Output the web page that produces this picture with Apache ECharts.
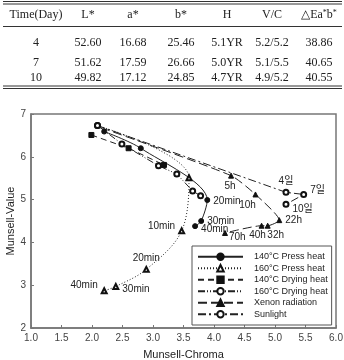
<!DOCTYPE html>
<html>
<head>
<meta charset="utf-8">
<script src="https://cdn.jsdelivr.net/npm/echarts@6/dist/echarts.min.js"></script>
<style>
  html, body { margin: 0; padding: 0; background: #fff; }
  #chart { width: 344px; height: 360px; }
</style>
</head>
<body>
<div id="chart"></div>
<script>
// table on top
const tableHeader = ['Time(Day)', 'L*', 'a*', 'b*', 'H', 'V/C', '△Ea{s|*}b{s|*}'];
const tableRows = [
    ['4', '52.60', '16.68', '25.46', '5.1YR', '5.2/5.2', '38.86'],
    ['7', '51.62', '17.59', '26.66', '5.0YR', '5.1/5.5', '40.65'],
    ['10', '49.82', '17.12', '24.85', '4.7YR', '4.9/5.2', '40.55']
];

// chart data [chroma, value]
const press140 = [[2.20, 6.59], [2.80, 6.20], [3.89, 4.99], [3.79, 4.50], [3.69, 4.38]];
const press140Labels = ['', '', '20min', '30min', '40min'];
const press160 = [[2.09, 6.73], [3.59, 5.51], [3.47, 4.27], [2.89, 3.37], [2.39, 2.97], [2.20, 2.87]];
const press160Labels = ['', '', '10min', '20min', '30min', '40min'];
const dry140 = [[1.99, 6.51], [2.60, 6.20], [3.18, 5.81]];
const dry160 = [[2.09, 6.73], [2.49, 6.30], [3.09, 5.79], [3.39, 5.60], [3.65, 5.20], [3.78, 5.09]];
const xenon = [[2.15, 6.68], [4.28, 5.56], [4.68, 5.12], [5.07, 4.52], [4.88, 4.39], [4.78, 4.39], [4.18, 4.22]];
const xenonLabels = ['', '5h', '10h', '22h', '32h', '40h', '70h'];
const sunlight = [[2.09, 6.73], [5.18, 5.17], [5.47, 5.12], [5.18, 4.89]];
const sunlightLabels = ['', '4일', '7일', '10일'];

const xTicks = [1.0, 1.5, 2.0, 2.5, 3.0, 3.5, 4.0, 4.5, 5.0, 5.5, 6.0];

const colX = [36, 88, 133, 181, 227, 272, 319];
const rowY = [43, 63, 78];

const chart = echarts.init(document.getElementById('chart'));

const serif = '"Liberation Serif", "Times New Roman", serif';
const sans = '"Liberation Sans", Arial, sans-serif';
const cjk = '"Liberation Sans", "Noto Sans CJK KR", sans-serif';

const graphics = [];
function hline(y, w) {
    graphics.push({type: 'line', shape: {x1: 3, y1: y, x2: 342, y2: y}, style: {stroke: '#333', lineWidth: w}});
}
hline(1.5, 1); hline(4, 1); hline(26.5, 1); hline(86, 1); hline(88.5, 1);

function cell(x, y, text) {
    graphics.push({
        type: 'text', x: x, y: y,
        style: {
            text: text, align: 'center', verticalAlign: 'middle',
            font: '12px ' + serif, fill: '#222',
            rich: {s: {fontSize: 8, fontFamily: serif, verticalAlign: 'top', padding: [0, 0, 4, 0]}}
        }
    });
}
tableHeader.forEach((h, i) => cell(colX[i], 15, h));
tableRows.forEach((r, j) => r.forEach((v, i) => cell(colX[i], rowY[j], v)));

// label placement per series
const lblPos = {
    press140: [null, null, ['right', [0, 1]], ['right', [0, 0]], ['right', [0, 3]]],
    press160: [null, null, ['left', [0, -5]], ['top', [0, 0]], ['right', [0, 3]], ['left', [0, -6]]],
    xenon: [null, ['bottom', [-1, 0]], ['bottom', [-8, 0]], ['right', [0, 0]], ['bottom', [8, -1]], ['bottom', [-4, -1]], ['right', [-2, 4]]],
    sunlight: [null, ['top', [0, 0]], ['right', [0, -4]], ['right', [0, 5]]]
};

function makeData(points, labels, pos, hideFirst) {
    return points.map((p, i) => {
        const item = {value: p};
        if (hideFirst && i === 0) item.symbol = 'none';
        if (labels && labels[i]) {
            item.label = {
                show: true, formatter: labels[i],
                position: pos[i][0], offset: pos[i][1], distance: 3,
                fontSize: 10, color: '#222', fontFamily: cjk
            };
        }
        return item;
    });
}

function lineSeries(name, data, dash, symbol, smooth) {
    return {
        name: name,
        type: 'line',
        data: data,
        smooth: smooth,
        symbol: symbol,
        symbolSize: 5,
        showAllSymbol: true,
        lineStyle: {color: '#222', width: 1, type: dash},
        itemStyle: {color: '#111', borderColor: '#111', borderWidth: 1},
        z: 3
    };
}

chart.setOption({
    animation: false,
    textStyle: {fontFamily: sans},
    graphic: graphics,
    grid: {
        left: 31, right: 8, top: 114, bottom: 32,
        outerBoundsMode: 'none', containLabel: false,
        show: true, borderColor: '#777', borderWidth: 1.5
    },
    legend: {
        orient: 'vertical',
        left: 192, top: 246,
        itemWidth: 45, itemHeight: 8, itemGap: 2,
        padding: [6, 4, 6, 5],
        borderColor: '#555', borderWidth: 1,
        backgroundColor: '#fff',
        textStyle: {fontSize: 9, lineHeight: 9.5, color: '#222', fontFamily: sans, padding: [0, 0, 0, 6]}
    },
    xAxis: {
        type: 'value', min: 1, max: 6, interval: 0.5,
        name: 'Munsell-Chroma', nameLocation: 'middle', nameGap: 21, nameMoveOverlap: false,
        nameTextStyle: {fontSize: 11, color: '#222'},
        axisLine: {lineStyle: {color: '#777', width: 1.5}},
        axisTick: {inside: true, length: 3, lineStyle: {color: '#777'}},
        axisLabel: {fontSize: 10, color: '#444', margin: 5, formatter: v => xTicks.find(t => Math.abs(t - v) < 1e-6).toFixed(1)},
        splitLine: {show: false}
    },
    yAxis: {
        type: 'value', min: 2, max: 7, interval: 1,
        name: 'Munsell-Value', nameLocation: 'middle', nameGap: 15, nameMoveOverlap: false,
        nameTextStyle: {fontSize: 11, color: '#222'},
        axisLine: {lineStyle: {color: '#777', width: 1.5}},
        axisTick: {inside: true, length: 3, lineStyle: {color: '#777'}},
        axisLabel: {fontSize: 10, color: '#444', margin: 5},
        splitLine: {show: false}
    },
    series: [
        lineSeries('140°C Press heat', makeData(press140, press140Labels, lblPos.press140, false), 'solid', 'circle', 0.3),
        lineSeries('160°C Press heat', makeData(press160, press160Labels, lblPos.press160, true), [1, 2], 'emptyTriangle', 0.35),
        lineSeries('140°C Drying heat', makeData(dry140, null, null, false), [6, 4], 'rect', false),
        lineSeries('160°C Drying heat', makeData(dry160, null, null, false), [7, 2, 1, 2, 1, 2], 'emptyCircle', false),
        lineSeries('Xenon radiation', makeData(xenon, xenonLabels, lblPos.xenon, true), [9, 4], 'triangle', 0.2),
        lineSeries('Sunlight', makeData(sunlight, sunlightLabels, lblPos.sunlight, false), [8, 3, 2, 3], 'emptyCircle', false)
    ]
});
</script>
</body>
</html>
